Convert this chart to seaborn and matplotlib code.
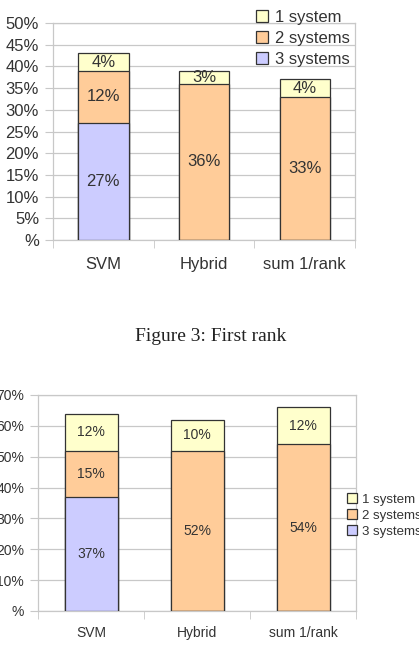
import matplotlib
matplotlib.use('Agg')
import matplotlib.pyplot as plt
from matplotlib.patches import Patch
from matplotlib.ticker import FixedLocator
import seaborn as sns
import numpy as np

sns.set_style('white')
plt.rcParams['font.family'] = ['Liberation Sans', 'DejaVu Sans']

methods = ['SVM', 'Hybrid', 'sum 1/rank']
series_names = ['1 system', '2 systems', '3 systems']
COLORS = {'1 system': '#FFFFCC', '2 systems': '#FFCC99', '3 systems': '#CCCCFF'}

# first rank (top chart), percent of queries
first_one = [4, 3, 4]
first_two = [12, 36, 33]
first_three = [27, 0, 0]

# second chart, percent of queries
top_one = [12, 10, 12]
top_two = [15, 52, 54]
top_three = [37, 0, 0]

EDGE = '#333333'
TXT = '#333333'
GRID = '#c8c8c8'


def stacked(ax, one, two, three, ymax, ystep, fs, xpad):
    three = np.array(three)
    two = np.array(two)
    one = np.array(one)
    layers = [
        ('1 system', three + two + one, one, three + two),
        ('2 systems', three + two, two, three),
        ('3 systems', three, three, np.zeros(3)),
    ]
    for name, tops, vals, base in layers:
        sns.barplot(x=methods, y=tops, order=methods, color=COLORS[name],
                    saturation=1, width=0.5, edgecolor=EDGE, linewidth=0.9,
                    ax=ax, zorder=3)
        for i, v in enumerate(vals):
            if v > 0:
                ax.text(i, base[i] + v / 2, f'{v}%', ha='center', va='center',
                        fontsize=fs, color=TXT, zorder=4)
    ax.set_xlim(-0.5, 2.5)
    ax.set_ylim(0, ymax)
    yt = np.arange(0, ymax + 0.1, ystep)
    ax.set_yticks(yt)
    ax.set_yticklabels(['%' if t == 0 else f'{t:g}%' for t in yt])
    ax.yaxis.grid(True, color=GRID, linewidth=0.9, zorder=0)
    ax.set_axisbelow(True)
    ax.tick_params(axis='y', length=6, color=GRID, labelsize=fs,
                   labelcolor=TXT, pad=4, left=True)
    ax.tick_params(axis='x', length=0, labelsize=fs, labelcolor=TXT, pad=xpad)
    ax.xaxis.set_minor_locator(FixedLocator([-0.5, 0.5, 1.5, 2.5]))
    ax.tick_params(axis='x', which='minor', length=6, color=GRID, bottom=True)
    for s in ax.spines.values():
        s.set_color(GRID)
        s.set_linewidth(0.9)
    ax.set_xlabel('')
    ax.set_ylabel('')


fig = plt.figure(figsize=(4.19, 6.45), dpi=100)
fig.patch.set_facecolor('white')

ax1 = fig.add_axes([53 / 419, 1 - 240 / 645, 302 / 419, 217 / 645])
stacked(ax1, first_one, first_two, first_three, 50, 5, 12, 12)
handles = [Patch(facecolor=COLORS[n], edgecolor=EDGE, linewidth=0.9) for n in series_names]
fig.legend(handles, series_names, loc='upper left',
           bbox_to_anchor=(244 / 419, 1 + 2 / 645), frameon=False,
           fontsize=12, labelcolor=TXT, handlelength=0.75, handleheight=0.75,
           handletextpad=0.4, labelspacing=0.37, borderpad=0.2)

fig.text(211 / 419, 1 - 337 / 645, 'Figure 3: First rank', ha='center',
         va='center', fontsize=14, family=['Liberation Serif', 'DejaVu Serif'],
         color='#222222')

ax2 = fig.add_axes([38 / 419, 1 - 611 / 645, 318 / 419, 216 / 645])
stacked(ax2, top_one, top_two, top_three, 70, 10, 10, 11)
fig.legend(handles, series_names, loc='upper left',
           bbox_to_anchor=(338 / 419, 1 - 484 / 645), frameon=False,
           fontsize=9.5, labelcolor=TXT, handlelength=0.75, handleheight=0.75,
           handletextpad=0.4, labelspacing=0.28, borderpad=0.2)

fig.savefig('out.png', dpi=100, facecolor='white')
